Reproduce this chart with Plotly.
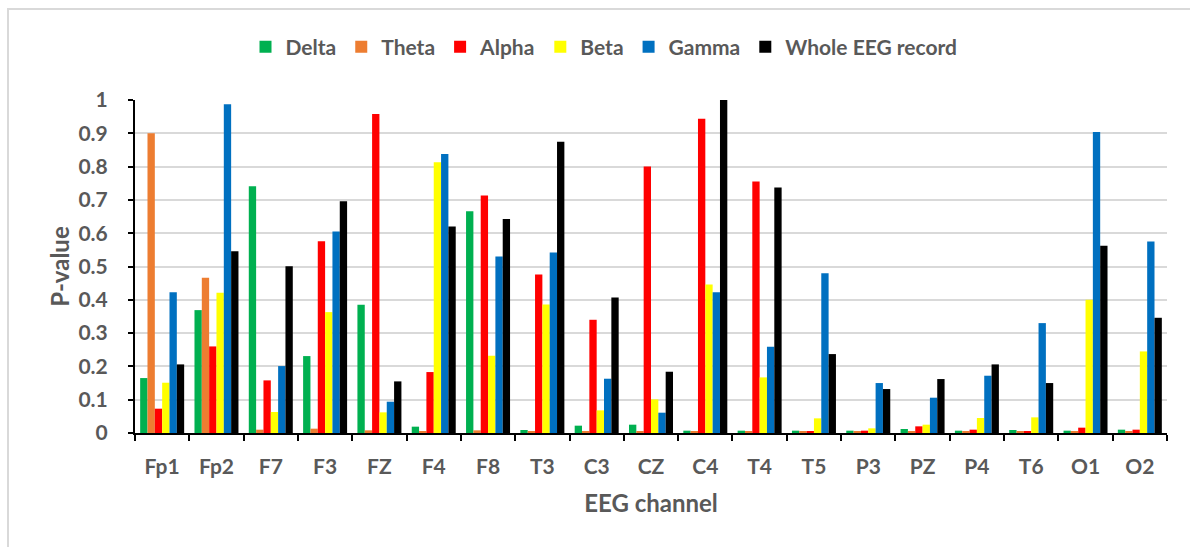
import plotly.graph_objects as go

channels = ["Fp1", "Fp2", "F7", "F3", "FZ", "F4", "F8", "T3", "C3", "CZ",
            "C4", "T4", "T5", "P3", "PZ", "P4", "T6", "O1", "O2"]

delta = [0.165, 0.369, 0.741, 0.231, 0.385, 0.019, 0.666, 0.009, 0.022, 0.025,
         0.007, 0.007, 0.007, 0.007, 0.012, 0.007, 0.009, 0.007, 0.010]
theta = [0.900, 0.466, 0.010, 0.013, 0.008, 0.005, 0.008, 0.005, 0.005, 0.005,
         0.005, 0.004, 0.004, 0.004, 0.004, 0.004, 0.004, 0.004, 0.004]
alpha = [0.073, 0.260, 0.158, 0.576, 0.958, 0.183, 0.713, 0.476, 0.340, 0.800,
         0.944, 0.755, 0.005, 0.007, 0.020, 0.010, 0.005, 0.016, 0.010]
beta = [0.151, 0.421, 0.063, 0.363, 0.062, 0.813, 0.232, 0.386, 0.068, 0.101,
        0.446, 0.167, 0.044, 0.014, 0.025, 0.045, 0.047, 0.400, 0.245]
gamma = [0.423, 0.987, 0.201, 0.605, 0.094, 0.838, 0.530, 0.542, 0.163, 0.061,
         0.423, 0.259, 0.480, 0.150, 0.106, 0.172, 0.330, 0.904, 0.575]
whole = [0.206, 0.546, 0.501, 0.696, 0.155, 0.620, 0.643, 0.875, 0.407, 0.184,
         1.000, 0.737, 0.237, 0.132, 0.162, 0.206, 0.150, 0.562, 0.346]

series = [
    ("Delta", delta, "#00B050"),
    ("Theta", theta, "#ED7D31"),
    ("Alpha", alpha, "#FF0000"),
    ("Beta", beta, "#FFFF00"),
    ("Gamma", gamma, "#0070C0"),
    ("Whole EEG record", whole, "#000000"),
]

FONT = "Lato"
GREY = "#595959"

fig = go.Figure()
for name, vals, color in series:
    fig.add_trace(go.Bar(x=channels, y=vals, name=name,
                         marker=dict(color=color, line=dict(width=0))))

W, H = 1190, 547
L, R, T, B = 135, 23, 100, 114
pw, ph = W - L - R, H - T - B

def px_x(p):
    return (p - L) / pw

def px_y(p):
    return (H - B - p) / ph

fig.update_layout(
    width=W, height=H,
    margin=dict(l=L, r=R, t=T, b=B),
    paper_bgcolor="white", plot_bgcolor="white",
    barmode="group", bargap=0.19, bargroupgap=0,
    font=dict(family=FONT, color=GREY),
    showlegend=True,
    legend=dict(orientation="h", x=px_x(604), y=px_y(47),
                xanchor="center", yanchor="middle",
                font=dict(family=FONT, size=21, color=GREY, weight="bold"),
                itemwidth=30, bgcolor="rgba(0,0,0,0)"),
    xaxis=dict(
        type="category",
        showline=True, linecolor="black", linewidth=2,
        ticks="outside", tickson="boundaries", ticklen=6,
        tickcolor="black", tickwidth=2,
        ticklabelstandoff=14,
        tickfont=dict(family=FONT, size=21, color=GREY, weight="bold"),
        title=dict(text="EEG channel", standoff=18,
                   font=dict(family=FONT, size=24, color=GREY, weight="bold")),
        showgrid=False,
    ),
    yaxis=dict(
        range=[0, 1], dtick=0.1,
        showline=True, linecolor="black", linewidth=2,
        ticks="outside", ticklen=5, tickcolor="black", tickwidth=2,
        ticklabelstandoff=16,
        showgrid=True, gridcolor="#D9D9D9", gridwidth=1.5,
        zeroline=False,
        tickfont=dict(family=FONT, size=21, color=GREY, weight="bold"),
        title=dict(text="P-value", standoff=2,
                   font=dict(family=FONT, size=24, color=GREY, weight="bold")),
    ),
    shapes=[dict(type="rect", xref="paper", yref="paper",
                 x0=px_x(8), x1=px_x(1200), y0=px_y(560), y1=px_y(9),
                 line=dict(color="#D9D9D9", width=2), layer="below")],
)

fig.write_html("out.html")
